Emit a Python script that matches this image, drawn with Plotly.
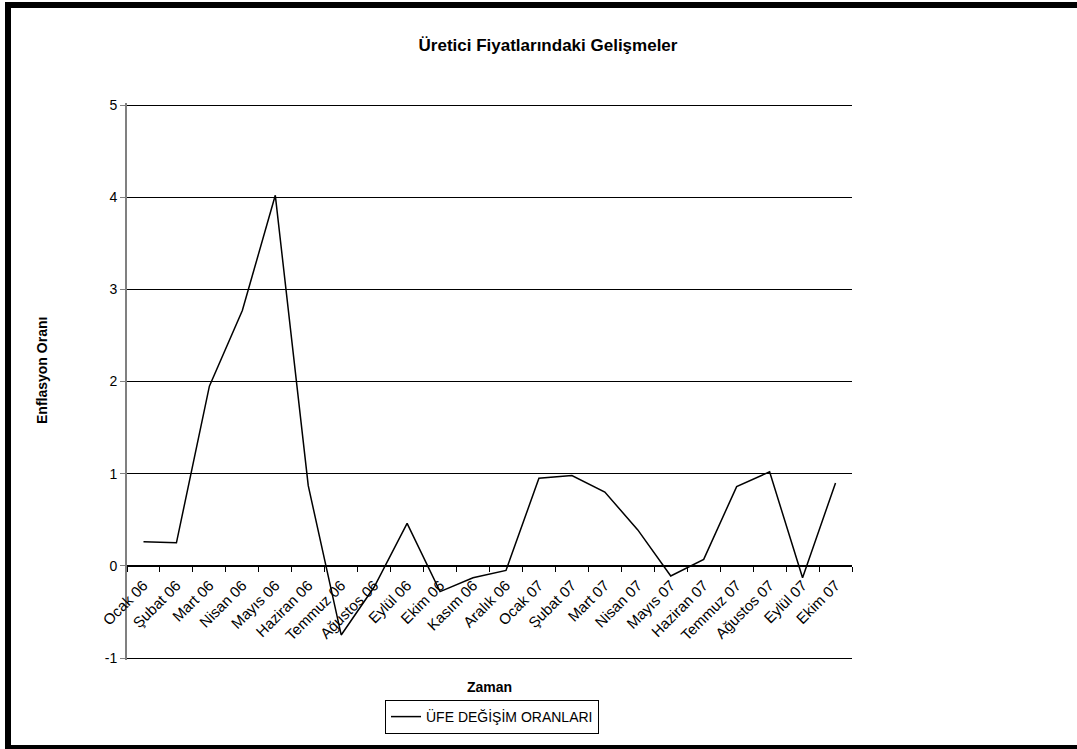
import plotly.graph_objects as go

months = ["Ocak 06", "Şubat 06", "Mart 06", "Nisan 06", "Mayıs 06", "Haziran 06",
          "Temmuz 06", "Ağustos 06", "Eylül 06", "Ekim 06", "Kasım 06", "Aralık 06",
          "Ocak 07", "Şubat 07", "Mart 07", "Nisan 07", "Mayıs 07", "Haziran 07",
          "Temmuz 07", "Ağustos 07", "Eylül 07", "Ekim 07"]
ufe = [0.26, 0.25, 1.95, 2.77, 4.02, 0.87,
       -0.75, -0.23, 0.46, -0.28, -0.13, -0.05,
       0.95, 0.98, 0.80, 0.39, -0.11, 0.07,
       0.86, 1.02, -0.13, 0.90]
series_name = "ÜFE DEĞİŞİM ORANLARI"
y_ticks = [-1, 0, 1, 2, 3, 4, 5]
y_tick_labels = ["-1", "0", "1", "2", "3", "4", "5"]

W, H = 1077, 749
L, R, T, B = 127, 852, 105, 658  # pixel rows of y=5 and y=-1
YMIN, YMAX = -1, 5
PAD = 2  # px padding so edge gridlines are drawn
PPU = (B - T) / (YMAX - YMIN)
EPS = PAD / PPU
T2, B2 = T - PAD, B + PAD

def fx(px):
    return (px - L) / (R - L)

def fy(py):
    return (B2 - py) / (B2 - T2)

fig = go.Figure()
fig.add_trace(go.Scatter(x=months, y=ufe, mode="lines", name=series_name,
                         line=dict(color="black", width=1.5)))

font = "Liberation Sans, Arial, sans-serif"

fig.update_layout(
    width=W, height=H,
    margin=dict(l=L, r=W - R, t=T2, b=H - B2),
    paper_bgcolor="white", plot_bgcolor="white",
    font=dict(family=font, color="black", size=14),
    title=dict(text="<b>Üretici Fiyatlarındaki Gelişmeler</b>", x=(548) / W, xanchor="center",
               xref="container", yref="container", y=1 - 45 / H, yanchor="middle",
               font=dict(size=17, family=font, color="black")),
    showlegend=True,
    legend=dict(orientation="h", x=fx(492), xanchor="center", y=fy(717), yanchor="middle",
                bordercolor="black", borderwidth=1, bgcolor="white",
                font=dict(size=14, family=font, color="black")),
    xaxis=dict(type="category", range=[-0.5, len(months) - 0.5],
               anchor="free", position=fy(B - (0 - YMIN) * PPU),
               showline=True, linecolor="black", linewidth=1,
               ticks="outside", tickson="boundaries", ticklen=5, tickcolor="black",
               tickangle=-45, ticklabelstandoff=4, showgrid=False, zeroline=False,
               tickfont=dict(size=15, family=font, color="black")),
    yaxis=dict(range=[YMIN - EPS, YMAX + EPS], tickmode="array",
               tickvals=y_ticks, ticktext=y_tick_labels, domain=[0, 1],
               showline=True, linecolor="#808080", linewidth=2,
               ticks="outside", ticklen=5, tickcolor="#808080",
               showgrid=True, gridcolor="black", gridwidth=1, zeroline=False,
               tickfont=dict(size=14, family=font, color="black")),
    annotations=[
        dict(text="<b>Enflasyon Oranı</b>", textangle=-90, xref="paper", yref="paper",
             x=fx(42), y=fy(371), showarrow=False, xanchor="center", yanchor="middle",
             font=dict(size=14, family=font, color="black")),
        dict(text="<b>Zaman</b>", xref="paper", yref="paper",
             x=fx(489), y=fy(687), showarrow=False, xanchor="center", yanchor="middle",
             font=dict(size=14, family=font, color="black")),
    ],
    shapes=[
        dict(type="rect", xref="paper", yref="paper",
             x0=fx(8), x1=fx(1090), y0=fy(5), y1=fy(748),
             line=dict(color="black", width=6), fillcolor="rgba(0,0,0,0)", layer="above"),
    ],
)

fig.write_html("out.html")
